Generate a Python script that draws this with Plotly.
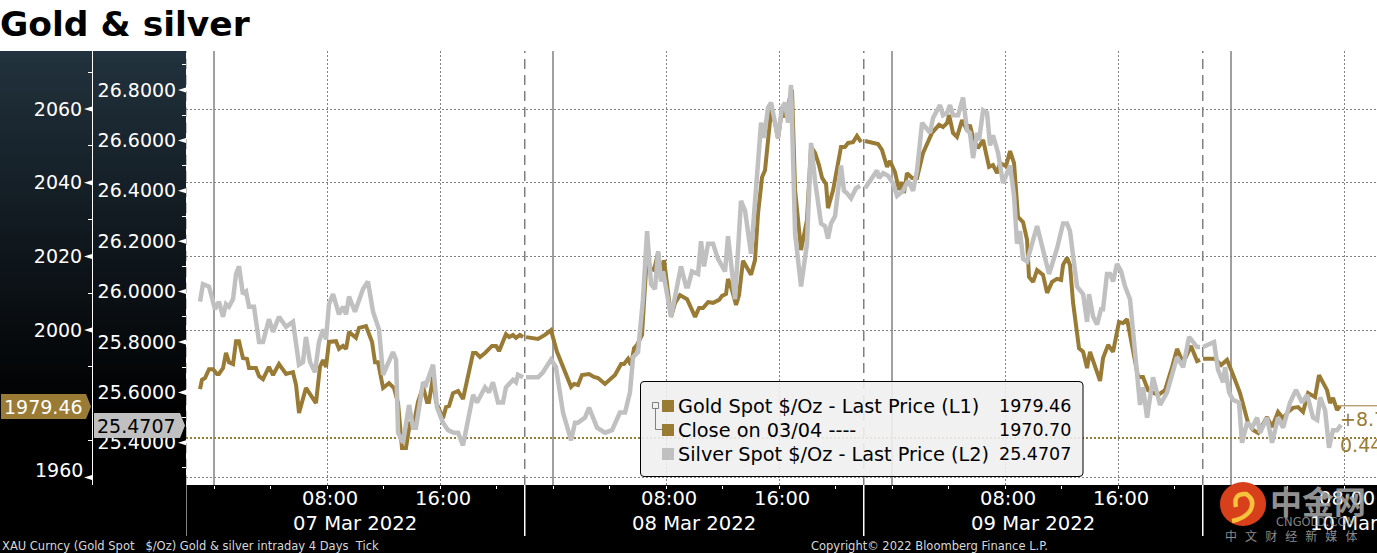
import pandas as pd
import plotly.graph_objects as go

W, H = 1377, 553
GOLD = "#9a7b36"
SILVER = "#c0c0c0"
GRID = "#808080"
BASE = pd.Timestamp("2022-03-07")

# hours after 07 Mar 00:00, None = break at the start of each session
gold_hours = [
    -0.99, -0.85, -0.64, -0.35, -0.07, 0.21, 0.35, 0.64, 0.85, 1.06, 1.35, 1.56, 1.77, 2.05, 2.34, 2.48, 2.97, 3.19,
    3.47, 3.89, 4.18, 4.60, 5.10, 5.59, 5.81, 6.02, 6.51, 7.22, 7.50, 7.72, 7.93, 8.14, 8.64, 8.85, 9.13, 9.35, 9.56,
    9.91, 10.05, 10.27, 10.76, 11.19, 11.40, 11.61, 11.97, 12.39, 12.74, 13.03, 13.31, 13.59, 13.88, 14.09, 14.44,
    14.80, 15.08, 15.22, 15.51, 15.72, 16.21, 16.43, 16.64, 16.92, 17.28, 17.63, 18.34, 18.55, 18.83, 19.19, 19.68,
    19.97, 20.18, 20.67, 20.89, 21.17, 21.38, 21.66, 21.88, None,
    22.09, 22.94, 23.43, 23.86, 24.28, 24.71, 25.28, 25.49, 25.77, 26.05, 26.55, 26.90, 27.19, 27.68, 28.39, 28.82,
    29.03, 29.31, 29.52, 29.74, 29.95, 30.30, 30.66, 30.87, 31.15, 31.44, 31.72, 31.86, 32.07, 32.36, 32.64, 32.99,
    33.49, 34.06, 34.34, 34.62, 34.98, 35.33, 35.76, 35.97, 36.25, 36.39, 36.67, 36.96, 37.17, 37.45, 38.02, 38.30,
    38.52, 38.80, 39.01, 39.44, 39.72, 39.93, 40.21, 40.43, 40.92, 41.14, 41.56, 41.98, 42.27, 42.55, 42.83, 43.05,
    43.33, 43.47, 43.83, 44.11, 44.39, 44.67, 44.89, 45.24, 45.52, 45.81, None,
    46.09, 47.01, 47.29, 47.65, 47.86, 48.21, 48.50, 48.64, 48.85, 49.06, 49.42, 49.77, 50.20, 50.83, 51.33, 51.61,
    51.90, 52.04, 52.32, 52.60, 52.96, 53.31, 53.52, 53.74, 54.09, 54.45, 54.87, 55.15, 55.44, 55.65, 56.07, 56.36,
    56.64, 56.92, 57.28, 57.56, 57.70, 57.99, 58.27, 58.69, 58.98, 59.33, 59.68, 59.97, 60.11, 60.39, 60.60, 60.82,
    61.24, 61.53, 61.81, 62.02, 62.73, 62.94, 63.30, 63.65, 64.07, 64.36, 64.64, 65.00, 65.42, 65.77, 66.13, 66.84,
    67.33, 67.83, 68.18, 68.61, 69.17, 69.60, 69.81, None,
    70.02, 70.87, 71.30, 71.72, 72.07, 72.64, 73.21, 73.56, 73.92, 74.55, 74.91, 75.33, 75.69, 76.04, 76.39, 76.75,
    77.10, 77.46, 77.95, 78.23, 78.80, 79.01, 79.22, 79.51, 79.72,
]
gold_price = [
    1984.0, 1986.5, 1987.0, 1989.4, 1989.4, 1988.1, 1988.1, 1989.7, 1993.8, 1991.3, 1990.8, 1997.0, 1997.0, 1992.4,
    1992.2, 1989.7, 1989.7, 1987.5, 1986.7, 1990.0, 1987.8, 1990.8, 1988.1, 1988.6, 1985.1, 1977.5, 1984.3, 1980.2,
    1990.0, 1991.9, 1990.0, 1996.8, 1997.0, 1994.9, 1995.7, 1994.9, 1999.5, 1998.1, 1997.9, 2000.6, 2001.1, 1996.8,
    1991.3, 1991.3, 1984.3, 1985.6, 1984.3, 1980.2, 1968.0, 1968.0, 1975.1, 1973.4, 1980.5, 1984.6, 1980.5, 1980.5,
    1987.3, 1980.5, 1976.1, 1979.1, 1979.4, 1982.9, 1983.5, 1981.3, 1993.8, 1993.8, 1992.7, 1993.8, 1995.7, 1995.7,
    1994.3, 1998.9, 1998.1, 1998.7, 1997.9, 1998.7, 1998.1, None,
    1998.1, 1997.6, 1998.7, 2000.0, 1994.1, 1990.0, 1984.6, 1985.4, 1985.1, 1987.8, 1988.1, 1987.3, 1987.0, 1985.4,
    1987.8, 1990.8, 1990.8, 1992.2, 1990.5, 1995.1, 1996.0, 1998.7, 2020.9, 2016.9, 2016.3, 2020.9, 2014.1, 2019.0,
    2012.8, 2003.6, 2007.4, 2009.5, 2008.4, 2003.6, 2006.0, 2006.0, 2007.6, 2007.4, 2008.2, 2009.3, 2009.8, 2013.9,
    2010.9, 2006.8, 2009.5, 2018.8, 2015.0, 2019.0, 2031.8, 2041.5, 2043.4, 2059.7, 2056.2, 2052.1, 2059.7, 2057.8,
    2065.2, 2038.0, 2021.7, 2029.9, 2049.7, 2048.1, 2044.8, 2041.3, 2039.6, 2033.1, 2038.0, 2044.3, 2049.7, 2049.7,
    2050.8, 2051.0, 2052.7, 2051.0, None,
    2051.3, 2050.5, 2048.9, 2044.3, 2045.9, 2042.9, 2038.0, 2040.2, 2037.2, 2042.6, 2041.3, 2041.3, 2048.1, 2053.5,
    2055.7, 2055.1, 2056.2, 2058.4, 2053.5, 2052.4, 2057.0, 2054.3, 2055.7, 2052.1, 2049.4, 2051.6, 2044.3, 2044.8,
    2042.6, 2045.3, 2044.5, 2048.6, 2045.3, 2030.7, 2029.3, 2024.5, 2014.4, 2013.1, 2016.3, 2015.0, 2010.1, 2013.1,
    2013.9, 2013.6, 2017.7, 2019.6, 2017.7, 2007.4, 1995.1, 1994.1, 1989.7, 1994.1, 1986.2, 1992.4, 1996.0, 1994.1,
    2002.2, 2001.9, 2003.0, 1995.4, 1987.3, 1987.3, 1983.7, 1982.4, 1983.7, 1990.0, 1994.9, 1991.1, 1995.7, 1991.6,
    1991.9, None,
    1992.2, 1992.2, 1990.5, 1991.9, 1988.6, 1982.9, 1974.8, 1972.9, 1972.1, 1976.4, 1973.7, 1977.8, 1976.1, 1977.8,
    1978.9, 1979.1, 1977.8, 1982.9, 1981.8, 1987.8, 1983.7, 1980.2, 1981.6, 1978.3, 1979.46,
]

silver_hours = [
    -0.99, -0.78, -0.35, 0.07, 0.35, 0.64, 0.85, 1.06, 1.35, 1.56, 1.77, 2.05, 2.27, 2.48, 2.83, 3.19, 3.47, 3.89,
    4.18, 4.60, 5.10, 5.59, 6.02, 6.30, 6.51, 6.80, 7.15, 7.43, 7.72, 7.93, 8.14, 8.43, 8.85, 9.13, 9.35, 9.56, 9.98,
    10.27, 10.55, 10.90, 11.26, 11.68, 11.97, 12.67, 12.89, 13.03, 13.38, 13.81, 14.09, 14.30, 14.80, 15.01, 15.51,
    15.79, 16.21, 16.57, 16.99, 17.28, 17.63, 18.34, 18.62, 19.19, 19.47, 19.75, 20.11, 20.46, 20.67, 21.17, 21.38,
    21.52, 21.88, None,
    22.09, 22.94, 23.29, 23.86, 24.21, 24.71, 25.28, 25.56, 25.77, 26.27, 26.55, 27.12, 27.68, 28.18, 28.74, 29.10,
    29.45, 29.67, 30.02, 30.37, 30.66, 30.94, 31.22, 31.44, 31.65, 31.79, 32.36, 33.06, 33.42, 33.56, 33.84, 34.27,
    34.48, 34.69, 34.98, 35.33, 35.68, 36.18, 36.39, 36.89, 37.31, 37.60, 38.02, 38.73, 38.94, 39.22, 39.44, 39.93,
    40.21, 40.43, 40.64, 40.85, 41.14, 41.56, 41.98, 42.27, 42.55, 42.98, 43.26, 43.47, 43.68, 43.97, 44.39, 44.60,
    44.82, 45.10, 45.45, 45.74, None,
    46.09, 46.94, 47.08, 47.37, 47.72, 48.07, 48.36, 48.78, 49.14, 49.49, 49.77, 50.13, 50.69, 50.91, 51.40, 51.61,
    51.90, 52.11, 52.32, 52.68, 53.03, 53.31, 53.52, 53.74, 54.02, 54.16, 54.45, 54.73, 54.94, 55.15, 55.51, 55.86,
    56.36, 56.64, 56.85, 57.06, 57.28, 57.56, 58.27, 58.69, 59.12, 59.68, 60.11, 60.39, 60.60, 61.10, 61.53, 61.81,
    61.95, 62.24, 62.52, 62.80, 62.94, 63.22, 63.44, 63.65, 63.93, 64.22, 64.50, 64.85, 65.21, 65.56, 65.77, 66.06,
    66.48, 66.98, 67.47, 67.83, 68.18, 68.61, 69.03, 69.60, 69.81, None,
    70.02, 70.80, 71.08, 71.44, 71.58, 71.86, 72.15, 72.57, 72.78, 73.14, 73.49, 73.85, 74.06, 74.55, 74.91, 75.33,
    75.69, 76.18, 76.60, 77.03, 77.39, 77.81, 78.10, 78.31, 78.66, 78.94, 79.22, 79.51, 79.79,
]
silver_price = [
    25.96, 26.03, 26.02, 25.93, 25.96, 25.90, 25.95, 25.94, 25.97, 26.07, 26.10, 25.99, 26.00, 25.94, 25.94, 25.80,
    25.80, 25.89, 25.84, 25.90, 25.86, 25.88, 25.71, 25.72, 25.82, 25.72, 25.68, 25.80, 25.85, 25.81, 25.95, 25.99,
    25.91, 25.94, 25.91, 25.98, 25.92, 25.97, 26.01, 26.04, 25.92, 25.85, 25.67, 25.76, 25.73, 25.44, 25.40, 25.55,
    25.46, 25.46, 25.64, 25.63, 25.71, 25.54, 25.48, 25.45, 25.44, 25.44, 25.39, 25.59, 25.56, 25.62, 25.60, 25.64,
    25.56, 25.56, 25.62, 25.65, 25.64, 25.67, 25.66, None,
    25.66, 25.66, 25.68, 25.73, 25.70, 25.52, 25.41, 25.48, 25.48, 25.50, 25.54, 25.46, 25.44, 25.45, 25.52, 25.52,
    25.60, 25.74, 25.76, 25.97, 26.24, 26.03, 26.01, 26.16, 26.04, 26.08, 25.90, 26.10, 26.02, 26.02, 26.08, 26.07,
    26.20, 26.10, 26.19, 26.19, 26.13, 26.08, 26.22, 25.97, 26.36, 26.32, 26.15, 26.67, 26.61, 26.73, 26.75, 26.61,
    26.73, 26.75, 26.67, 26.82, 26.23, 26.02, 26.19, 26.59, 26.44, 26.27, 26.26, 26.21, 26.27, 26.30, 26.50, 26.40,
    26.39, 26.37, 26.41, 26.42, None,
    26.41, 26.48, 26.45, 26.47, 26.46, 26.43, 26.38, 26.40, 26.44, 26.40, 26.48, 26.67, 26.63, 26.69, 26.74, 26.70,
    26.71, 26.74, 26.70, 26.70, 26.77, 26.64, 26.63, 26.53, 26.63, 26.60, 26.72, 26.71, 26.58, 26.62, 26.55, 26.43,
    26.50, 26.38, 26.19, 26.24, 26.13, 26.12, 26.26, 26.17, 26.07, 26.17, 26.27, 26.27, 26.24, 26.02, 25.99, 25.88,
    25.99, 25.90, 25.87, 25.93, 25.93, 26.07, 26.07, 26.04, 26.11, 26.08, 26.02, 25.97, 25.74, 25.55, 25.62, 25.50,
    25.66, 25.55, 25.60, 25.68, 25.74, 25.70, 25.82, 25.78, 25.78, None,
    25.78, 25.80, 25.69, 25.64, 25.70, 25.60, 25.57, 25.56, 25.40, 25.48, 25.46, 25.50, 25.44, 25.50, 25.40, 25.50,
    25.46, 25.56, 25.61, 25.56, 25.59, 25.50, 25.49, 25.58, 25.53, 25.38, 25.45, 25.45, 25.4707,
]

gold_ticks = [1960, 2000, 2020, 2040, 2060]
gold_tick_text = ["", "2000", "2020", "2040", "2060"]
gold_minor = [1970, 1990, 2010, 2030, 2050, 2070]
silver_ticks = [25.4, 25.6, 25.8, 26.0, 26.2, 26.4, 26.6, 26.8]
silver_minor = [25.3, 25.5, 25.7, 25.9, 26.1, 26.3, 26.5, 26.7, 26.9]
session_starts = [-2, 22, 46, 70]
midnights = [0, 24, 48, 72]
time_ticks = [8, 16, 32, 40, 56, 64, 80]
time_minor = [0, 4, 12, 20, 24, 28, 36, 44, 48, 52, 60, 68, 72, 76]
date_labels = ["07 Mar 2022", "08 Mar 2022", "09 Mar 2022", "10 Mar 2022"]
date_label_hours = [10, 34, 58, 82]

last_gold = 1979.46
last_silver = 25.4707
prev_close = 1970.70


def when(hour):
    return None if hour is None else BASE + pd.Timedelta(hours=hour)


def px(x):
    return x / W


def py(y):
    return 1 - y / H


def rect(x0, y0, x1, y1, color, layer="below"):
    return dict(type="rect", xref="paper", yref="paper", x0=px(x0), x1=px(x1), y0=py(y0), y1=py(y1),
                fillcolor=color, line_width=0, layer=layer)


def label(x, y, text, size=19, color="white", anchor="left", font="DejaVu Sans"):
    return dict(xref="paper", yref="paper", x=px(x), y=py(y), text=text, showarrow=False, xanchor=anchor,
                yanchor="middle", font=dict(family=font, size=size, color=color), borderpad=0, borderwidth=0)


def tag(x0, x1, y0, y1, color):
    ym = (y0 + y1) / 2
    path = f"M {px(x0)} {py(y0)} L {px(x1 - 5)} {py(y0)} L {px(x1)} {py(ym)} L {px(x1 - 5)} {py(y1)} L {px(x0)} {py(y1)} Z"
    return dict(type="path", xref="paper", yref="paper", path=path, fillcolor=color, line_width=0, layer="above")


def arrow(axis_x, value, half, yref):
    # little white pointer on the axis at a labelled tick
    path = f"M {px(axis_x - 8)} {value} L {px(axis_x)} {value + half} L {px(axis_x)} {value - half} Z"
    return dict(type="path", xref="paper", yref=yref, path=path, fillcolor="white", line_width=0, layer="above")


fig = go.Figure()
fig.add_trace(go.Scatter(x=[when(h) for h in gold_hours], y=gold_price, mode="lines", yaxis="y", connectgaps=False,
                         line=dict(color=GOLD, width=4)))
fig.add_trace(go.Scatter(x=[when(h) for h in silver_hours], y=silver_price, mode="lines", yaxis="y2", connectgaps=False,
                         line=dict(color=SILVER, width=4.5)))

shapes = [rect(0, 0, W, 51, "white")]
# left panel fades from slate to black
strips = 62
for i in range(strips):
    f = 1 - i / (strips - 1)
    color = f"rgb({int(34 * f)},{int(50 * f)},{int(62 * f)})"
    shapes.append(rect(0, 51 + i * 6, 186, 51 + (i + 1) * 6 + 1, color))

for v in gold_ticks:
    shapes.append(arrow(92, v, 0.68, "y"))
for v in silver_ticks:
    shapes.append(arrow(186, v, 0.01, "y2"))

for h in midnights:
    shapes.append(dict(type="line", xref="x", yref="paper", x0=when(h), x1=when(h), y0=py(485), y1=py(51),
                       line=dict(color=GRID, width=1.5), layer="below"))
for h in session_starts:
    shapes.append(dict(type="line", xref="x", yref="paper", x0=when(h), x1=when(h), y0=py(485), y1=py(51),
                       line=dict(color=GRID, width=1.5, dash="10px,6px"), layer="below"))
    shapes.append(dict(type="line", xref="x", yref="paper", x0=when(h), x1=when(h), y0=py(485), y1=py(536),
                       line=dict(color="white", width=1.5), layer="below"))
shapes.append(dict(type="line", xref="paper", yref="y", x0=px(186), x1=1, y0=prev_close, y1=prev_close,
                   line=dict(color=GOLD, width=2, dash="2px,2px"), layer="below"))
shapes.append(dict(type="line", xref="x", yref="y", x0=when(79.72), x1=when(82.4), y0=last_gold, y1=last_gold,
                   line=dict(color=GOLD, width=1), layer="above"))
shapes.append(tag(1, 91, 394, 419, GOLD))
shapes.append(tag(94, 185, 413, 438, SILVER))

# legend box
shapes.append(dict(type="path", xref="paper", yref="paper", layer="above", fillcolor="rgba(240,240,240,0.9)",
                   line=dict(color="black", width=1),
                   path=f"M {px(644)} {py(381.5)} L {px(1079)} {py(381.5)} Q {px(1083)} {py(381.5)} {px(1083)} {py(385)} "
                        f"L {px(1083)} {py(473)} Q {px(1083)} {py(476.5)} {px(1079)} {py(476.5)} L {px(644)} {py(476.5)} "
                        f"Q {px(640.5)} {py(476.5)} {px(640.5)} {py(473)} L {px(640.5)} {py(385)} Q {px(640.5)} {py(381.5)} {px(644)} {py(381.5)} Z"))
shapes.append(rect(662, 400, 674, 412, GOLD, "above"))
shapes.append(rect(662, 424, 674, 436, GOLD, "above"))
shapes.append(rect(662, 448, 674, 460, SILVER, "above"))
shapes.append(dict(type="rect", xref="paper", yref="paper", x0=px(652.5), x1=px(658.5), y0=py(402.5), y1=py(408.5),
                   line=dict(color=GRID, width=1), layer="above"))
shapes.append(dict(type="path", xref="paper", yref="paper", layer="above", line=dict(color=GRID, width=1),
                   path=f"M {px(655.5)} {py(408.5)} L {px(655.5)} {py(429.5)} L {px(662)} {py(429.5)}"))

# cngold watermark logo
shapes.append(dict(type="circle", xref="paper", yref="paper", x0=px(1220), x1=px(1266), y0=py(482), y1=py(526),
                   fillcolor="#d8401c", line_width=0, layer="above"))
shapes.append(dict(type="path", xref="paper", yref="paper", layer="above", line=dict(color="#f7c23c", width=4.5),
                   path=f"M {px(1236)} {py(507)} Q {px(1233)} {py(493)} {px(1246)} {py(494)} Q {px(1256)} {py(500)} {px(1250)} {py(511)} "
                        f"Q {px(1244)} {py(519)} {px(1232)} {py(521)}"))

annotations = [
    label(0, 24, "<b>Gold &amp; silver</b>", size=34.5, color="black"),
    label(83, 470, "1960", size=19, anchor="right"),
    label(4, 407, "1979.46", size=19),
    label(97, 426, "25.4707", size=19, color="black"),
    label(678, 406, "Gold Spot $/Oz - Last Price (L1)", color="black", size=19.3),
    label(678, 430, "Close on 03/04 ----", color="black", size=19.3),
    label(678, 454, "Silver Spot $/Oz - Last Price (L2)", color="black", size=19.3),
    label(1071, 406, "1979.46", color="black", anchor="right", size=17.5),
    label(1071, 430, "1970.70", color="black", anchor="right", size=17.5),
    label(1071, 454, "25.4707", color="black", anchor="right", size=17.5),
    label(1340, 419, "+8.76", color=GOLD, size=19),
    label(1340, 445, "0.44%", color=GOLD, size=19),
    label(2, 546, "XAU Curncy (Gold Spot \u00a0 $/Oz) Gold &amp; silver intraday 4 Days \u00a0Tick", size=11.5, color="#d8d8d8"),
    label(811, 546, "Copyright\u00a9 2022 Bloomberg Finance L.P.", size=11.5, color="#d8d8d8"),
    label(1318, 500, "<b>中金网</b>", size=32, color="rgba(165,165,165,0.9)", anchor="center", font="Noto Sans CJK SC"),
    label(1316, 522, "CNGOLD.COM", size=11.5, color="rgba(165,165,165,0.8)", anchor="center"),
    label(1291, 535, "中\u00a0\u00a0\u00a0文\u00a0\u00a0\u00a0财\u00a0\u00a0\u00a0经\u00a0\u00a0\u00a0新\u00a0\u00a0\u00a0媒\u00a0\u00a0\u00a0体",
          size=12, color="#8c8c8c", anchor="center", font="Noto Sans CJK SC"),
]
for name, hour in zip(date_labels, date_label_hours):
    annotations.insert(0, dict(xref="x", yref="paper", x=when(hour), y=py(523), text=name, showarrow=False,
                               xanchor="center", yanchor="middle", font=dict(family="DejaVu Sans", size=19.6, color="white")))

axis_font = dict(family="DejaVu Sans", size=19, color="white")
fig.update_layout(
    width=W,
    height=H,
    showlegend=False,
    hovermode=False,
    paper_bgcolor="black",
    plot_bgcolor="white",
    margin=dict(l=0, r=0, t=0, b=0),
    shapes=shapes,
    annotations=annotations,
    xaxis=dict(
        domain=[186 / W, 1],
        type="date",
        automargin=False,
        range=[when(-1.982), when(82.336)],
        tickmode="array",
        tickvals=[when(h) for h in time_ticks],
        ticktext=["\u00a0" + when(h).strftime("%H:%M") for h in time_ticks],
        tickfont=dict(family="DejaVu Sans", size=19.5, color="white"),
        ticks="outside",
        ticklen=3,
        ticklabelstandoff=-7,
        tickcolor="white",
        showgrid=True,
        gridcolor=GRID,
        griddash="2px,2px",
        gridwidth=1,
        zeroline=False,
        minor=dict(tickmode="array", tickvals=[when(h) for h in time_minor], ticks="outside", ticklen=3,
                   tickcolor="white", showgrid=False),
    ),
    yaxis=dict(
        domain=[1 - 485 / H, 1 - 51 / H],
        automargin=False,
        range=[1957.97, 2075.74],
        anchor="free",
        position=92 / W,
        tickmode="array",
        tickvals=gold_ticks,
        ticktext=gold_tick_text,
        tickfont=axis_font,
        ticks="outside",
        ticklen=6,
        tickcolor="rgba(0,0,0,0)",
        showline=True,
        linecolor="white",
        linewidth=1,
        showgrid=True,
        gridcolor=GRID,
        griddash="2px,2px",
        gridwidth=1,
        zeroline=False,
        minor=dict(tickmode="array", tickvals=gold_minor, ticks="outside", ticklen=4, tickcolor="white", showgrid=False),
    ),
    yaxis2=dict(
        domain=[1 - 485 / H, 1 - 51 / H],
        automargin=False,
        range=[25.2325, 26.9548],
        overlaying="y",
        anchor="free",
        position=186 / W,
        side="left",
        tickmode="array",
        tickvals=silver_ticks,
        tickformat=".4f",
        tickfont=axis_font,
        ticks="outside",
        ticklen=6,
        tickcolor="rgba(0,0,0,0)",
        showgrid=False,
        zeroline=False,
        minor=dict(tickmode="array", tickvals=silver_minor, ticks="outside", ticklen=4, tickcolor="white", showgrid=False),
    ),
)

fig.write_html(
    "out.html",
    config={"displayModeBar": False},
    post_script="var r=document.documentElement,b=document.body;"
    "r.style.height=b.style.height='553px';r.style.overflow=b.style.overflow='hidden';"
    "b.style.margin='0';b.style.background='black';",
)
